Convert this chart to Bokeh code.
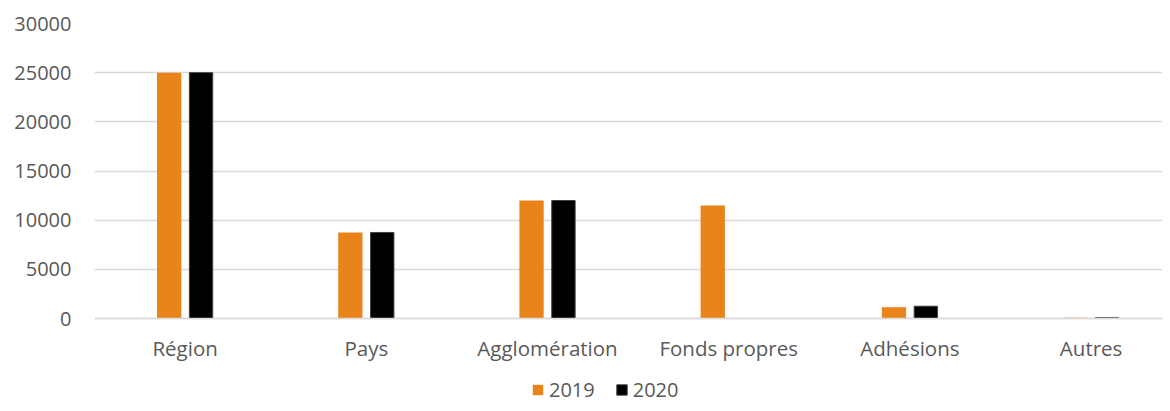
import numpy as np
from bokeh.plotting import figure
from bokeh.models import Range1d, FixedTicker, Legend, LegendItem, ColumnDataSource
from bokeh.embed import file_html
from bokeh.resources import INLINE

categories = ["Région", "Pays", "Agglomération", "Fonds propres", "Adhésions", "Autres"]
values_2019 = [25000, 8750, 12000, 11500, 1150, 80]
values_2020 = [25000, 8750, 12000, 0, 1250, 80]
y_ticks = [0, 5000, 10000, 15000, 20000, 25000, 30000]

FONT = "Open Sans"
TXT = "#595959"
GRID = "#D9D9D9"
ORANGE = "#E8841A"

idx = np.arange(len(categories))
off = 0.088
bw = 0.134

src = ColumnDataSource(dict(
    x19=idx - off, x20=idx + off, v19=values_2019, v20=values_2020,
))

# frame spans 23..403 px; value 0 sits 85 px above the bottom (295 px per 30000)
y_min = -85 * 30000 / 295

p = figure(width=1162, height=403, output_backend="svg", toolbar_location=None,
           x_range=Range1d(-0.5, 5.394), y_range=Range1d(y_min, 30000),
           min_border_left=94, min_border_right=0, min_border_top=23,
           min_border_bottom=0)
p.outline_line_color = None
p.background_fill_color = "white"
p.border_fill_color = "white"

r19 = p.vbar(x="x19", top="v19", width=bw, source=src, fill_color=ORANGE,
             line_color=None)
r20 = p.vbar(x="x20", top="v20", width=bw - 0.005, source=src, fill_color="#000000",
             line_color="#404040", line_width=1)

# x axis drawn at value 0
p.xaxis.fixed_location = 0
p.xaxis.ticker = FixedTicker(ticks=list(idx))
p.xaxis.major_label_overrides = {int(i): c for i, c in zip(idx, categories)}
p.xaxis.axis_line_color = GRID
p.xaxis.axis_line_width = 1.5
p.xaxis.major_tick_line_color = None
p.xaxis.minor_tick_line_color = None
p.xaxis.major_tick_out = 0
p.xaxis.major_tick_in = 0
p.xaxis.major_label_standoff = 15
p.xaxis.major_label_text_font = FONT
p.xaxis.major_label_text_font_size = "20.5px"
p.xaxis.major_label_text_color = TXT
p.xgrid.grid_line_color = None

# y axis
p.yaxis.ticker = FixedTicker(ticks=y_ticks)
p.yaxis.axis_line_color = None
p.yaxis.major_tick_line_color = None
p.yaxis.minor_tick_line_color = None
p.yaxis.major_tick_out = 0
p.yaxis.major_tick_in = 0
p.yaxis.major_label_standoff = 23
p.yaxis.major_label_text_font = FONT
p.yaxis.major_label_text_font_size = "20px"
p.yaxis.major_label_text_color = TXT
p.ygrid.grid_line_color = GRID
p.ygrid.grid_line_width = 1.5

legend = Legend(items=[LegendItem(label="2019", renderers=[r19]),
                       LegendItem(label="2020", renderers=[r20])],
                orientation="horizontal", location=(437, 0),
                glyph_width=13, glyph_height=13, label_standoff=5, spacing=20,
                padding=0, margin=0, border_line_color=None,
                background_fill_alpha=0, label_height=13,
                label_text_font=FONT, label_text_font_size="20px",
                label_text_color=TXT)
p.add_layout(legend, "center")

open("out.html", "w").write(file_html(p, INLINE))
